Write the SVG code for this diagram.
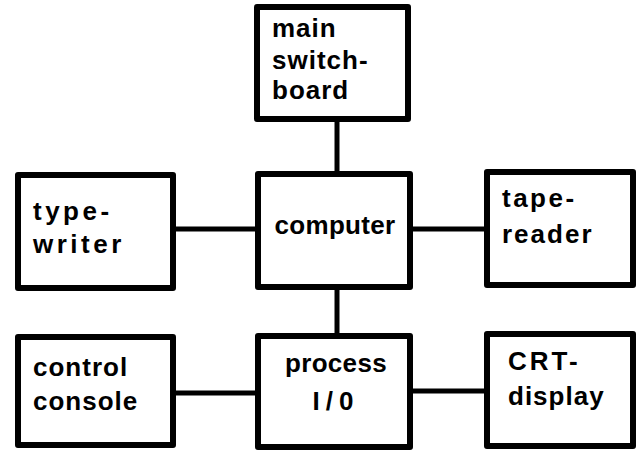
<svg xmlns="http://www.w3.org/2000/svg" width="636" height="451" viewBox="0 0 636 451">
<style>
.box{fill:#fff;stroke:#000;stroke-width:6;stroke-linejoin:round}
.lbl{font-family:"Liberation Sans",Arial,sans-serif;font-weight:bold;font-size:26px;fill:#000;letter-spacing:1px}
.wide{letter-spacing:3px}
.con{stroke:#000;stroke-width:5;fill:none}
</style>
<rect width="636" height="451" fill="#fff"/>
<g id="connectors">
<line class="con" x1="337" y1="119" x2="337" y2="174"/>
<line class="con" x1="337" y1="287" x2="337" y2="336"/>
<line class="con" x1="173" y1="229" x2="258" y2="229"/>
<line class="con" x1="410" y1="229" x2="487" y2="229"/>
<line class="con" x1="173" y1="393" x2="258" y2="393"/>
<line class="con" x1="410" y1="391" x2="487" y2="391"/>
</g>
<g id="main-switchboard">
<rect class="box" x="257" y="7" width="151" height="112"/>
<text class="lbl" x="272" y="37">main</text>
<text class="lbl" x="272" y="69">switch-</text>
<text class="lbl" x="272" y="99">board</text>
</g>
<g id="typewriter">
<rect class="box" x="18" y="175" width="155" height="113"/>
<text class="lbl wide" x="33" y="220" style="letter-spacing:3.5px">type-</text>
<text class="lbl wide" x="33" y="253" style="letter-spacing:3.5px">writer</text>
</g>
<g id="computer">
<rect class="box" x="258" y="174" width="152" height="113"/>
<text class="lbl" x="335" y="234" text-anchor="middle" style="letter-spacing:0.3px">computer</text>
</g>
<g id="tape-reader">
<rect class="box" x="487" y="172" width="146" height="113"/>
<text class="lbl" x="502" y="207" style="letter-spacing:2.5px">tape-</text>
<text class="lbl" x="502" y="243" style="letter-spacing:2px">reader</text>
</g>
<g id="control-console">
<rect class="box" x="18" y="337" width="155" height="108"/>
<text class="lbl" x="33" y="376">control</text>
<text class="lbl" x="33" y="410">console</text>
</g>
<g id="process-io">
<rect class="box" x="258" y="336" width="152" height="111"/>
<text class="lbl" x="336" y="372" text-anchor="middle" style="letter-spacing:0.3px">process</text>
<text class="lbl" x="336" y="410" text-anchor="middle" style="letter-spacing:6px">I/0</text>
</g>
<g id="crt-display">
<rect class="box" x="487" y="334" width="146" height="112"/>
<text class="lbl" x="508" y="370" style="letter-spacing:3px">CRT-</text>
<text class="lbl" x="508" y="405">display</text>
</g>
</svg>
